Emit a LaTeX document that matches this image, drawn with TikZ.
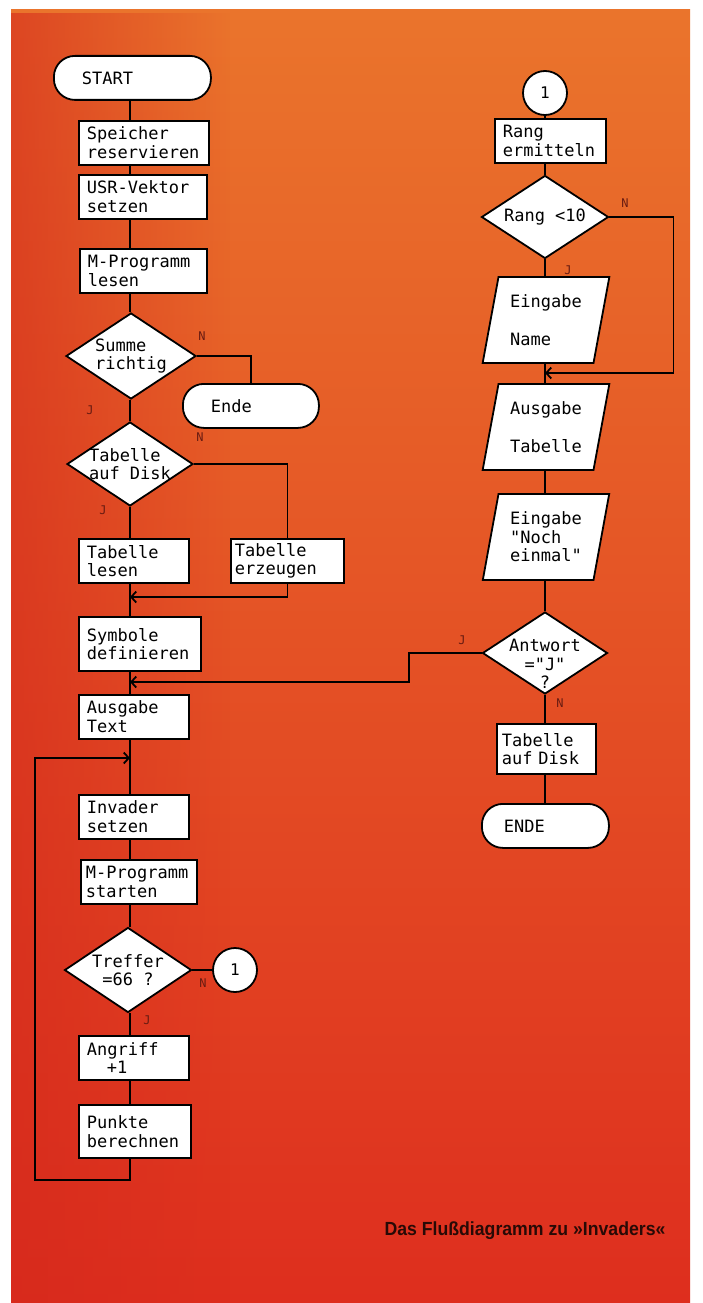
\documentclass[tikz,border=0pt]{standalone}
\usepackage{fontspec}
\newfontfamily\plotfont{DejaVu Sans Mono}
\newfontfamily\capfont[FakeStretch=0.93]{Liberation Sans}
\newcommand\pltfont{\plotfont\fontsize{17}{18.5}\selectfont}
\usetikzlibrary{shapes.geometric,arrows.meta,fadings}

\tikzset{
  box/.style={draw, fill=white, align=left, font=\pltfont,
    text width=94pt, minimum height=44pt, inner xsep=8pt, inner ysep=3pt,
    anchor=north west},
  term/.style={draw, fill=white, rounded corners=21pt, align=left, font=\pltfont,
    minimum height=44pt, inner xsep=28pt, anchor=north west},
  dec/.style={diamond, draw, fill=white, inner sep=0pt},
  dtext/.style={font=\pltfont, inner sep=0pt},
  io/.style={trapezium, trapezium left angle=77, trapezium right angle=103,
    trapezium stretches=true, draw, fill=white, align=left, font=\pltfont,
    minimum width=127pt, minimum height=86pt, inner sep=2pt},
  conn/.style={circle, draw, fill=white, minimum size=44pt, inner sep=0pt,
    font=\plotfont\fontsize{16}{16}\selectfont},
  lab/.style={font=\plotfont\fontsize{12}{12}\selectfont, text=labred, inner sep=0pt},
}

\begin{document}
\begin{tikzpicture}[x=1pt, y=-1pt, line width=1.8pt,
    >={Straight Barb[length=5pt,width=11pt]}]
    % Farben wie im Heft
    \definecolor{bgtop}{RGB}{234,116,44}
    \definecolor{bgmid}{RGB}{230,86,36}
    \definecolor{bgbot}{RGB}{222,46,30}
    \definecolor{bgleft}{RGB}{212,40,28}
    \definecolor{labred}{RGB}{105,28,18}
    \definecolor{captext}{RGB}{40,10,6}

    % Hintergrund
    \useasboundingbox (0,0) rectangle (702,1303);
    \fill[white] (0,0) rectangle (702,1303);
    \shade[top color=bgtop, middle color=bgmid, bottom color=bgbot] (11,10) rectangle (690,1303);
    \fill[bgleft, path fading=east, fill opacity=0.6] (11,10) rectangle (230,1303);

    % Linien der beiden Spalten
    \coordinate (ltr) at (130,0);
    \coordinate (rtr) at (545,0);
    \coordinate (j1) at (130,597);
    \coordinate (j2) at (130,682);
    \coordinate (j3) at (130,758);
    \coordinate (j4) at (545,373);

    % Linke Spalte
    \node[term, text width=101pt] (start) at (53,55) {START};
    \node[box, text width=114pt] (spe) at (78,120) {Speicher\\reservieren};
    \node[box, text width=112pt] (usr) at (78,174) {USR-Vektor\\setzen};
    \node[box, text width=111pt] (mle) at (79,248) {M-Programm\\lesen};
    \node[dec, minimum width=130pt, minimum height=86pt,
        label={[dtext, align=left]center:Summe\\richtig}] (sum) at (131,356) {};
    \node[term, text width=80pt] (ende) at (182,383) {Ende};
    \node[dec, minimum width=126pt, minimum height=84pt,
        label={[dtext, align=left]center:Tabelle\\auf Disk}] (tab) at (130,464) {};
    \node[box] (tle) at (78,538) {Tabelle\\lesen};
    \node[box, text width=105pt, inner xsep=4pt] (ter) at (230,538) {Tabelle\\erzeugen};
    \node[box, text width=106pt, minimum height=54pt] (sym) at (78,616) {Symbole\\definieren};
    \node[box] (aus) at (78,694) {Ausgabe\\Text};
    \node[box] (inv) at (78,794) {Invader\\setzen};
    \node[box, text width=106pt, inner xsep=5pt] (mst) at (80,859) {M-Programm\\starten};
    \node[dec, minimum width=127pt, minimum height=85pt,
        label={[dtext, align=center]center:Treffer\\=66 ?}] (tre) at (128,970) {};
    \node[conn] (c1l) at (235,970) {1};
    \node[box] (ang) at (78,1035) {Angriff\\\hspace*{20pt}+1};
    \node[box, text width=96pt, minimum height=53pt] (pun) at (78,1104) {Punkte\\berechnen};

    % Rechte Spalte
    \node[conn] (c1r) at (545,93) {1};
    \node[box, text width=95pt] (ran) at (494,118) {Rang\\ermitteln};
    \node[dec, minimum width=127pt, minimum height=83pt,
        label={[dtext]center:Rang <10}] (rng) at (545,217) {};
    \node[io] (ena) at (546,320) {Eingabe\\[19pt]Name};
    \node[io] (aut) at (546,427) {Ausgabe\\[19pt]Tabelle};
    \node[io] (enm) at (546,537) {Eingabe\\"Noch\\einmal"};
    \node[dec, minimum width=125pt, minimum height=82pt,
        label={[dtext, align=center, yshift=-11pt]center:Antwort\\="J"\\?}] (ant) at (545,653) {};
    \node[box, text width=89pt, inner xsep=5pt, minimum height=50pt] (tad) at (496,723) {Tabelle\\auf~Disk};
    \node[term, inner xsep=22pt, text width=83pt] (endr) at (481,803) {ENDE};

    % Verbindungen
    \foreach \a/\b in {start/spe, spe/usr, usr/mle, mle/sum, sum/tab, tab/tle,
        tle/sym, sym/aus, aus/inv, inv/mst, mst/tre, tre/ang, ang/pun}
        \draw (\a.south -| ltr) -- (\b.north -| ltr);
    \foreach \a/\b in {c1r/ran, ran/rng, rng/ena, ena/aut, aut/enm, enm/ant,
        ant/tad, tad/endr}
        \draw (\a.south -| rtr) -- (\b.north -| rtr);

    \draw (sum.east) -| (ende.north);
    \draw (tab.east) -| (ter.north);
    \draw[->] (ter.south) |- (j1);
    \draw[->] (ant.west) -- ++(-73,0) |- (j2);
    \draw[->] (pun.south -| ltr) -- ++(0,21) -- ++(-95,0) |- (j3);
    \draw (tre.east) -- (c1l);
    \draw[->] (rng.east) -- ++(64,0) |- (j4);

    % J / N
    \node[lab] (n1) at (202,336) {N};
    \node[lab] (y1) at (90,410) {J};
    \node[lab] (n2) at (200,437) {N};
    \node[lab] (y2) at (103,510) {J};
    \node[lab] (n3) at (203,983) {N};
    \node[lab] (y3) at (147,1020) {J};
    \node[lab] (n4) at (625,203) {N};
    \node[lab] (y4) at (568,270) {J};
    \node[lab] (y5) at (462,640) {J};
    \node[lab] (n5) at (560,703) {N};

    % Bildunterschrift
    \node[font=\capfont\bfseries\fontsize{19}{19}\selectfont, text=captext] (cap)
        at (525,1231) {Das Flußdiagramm zu »Invaders«};
\end{tikzpicture}
\end{document}
